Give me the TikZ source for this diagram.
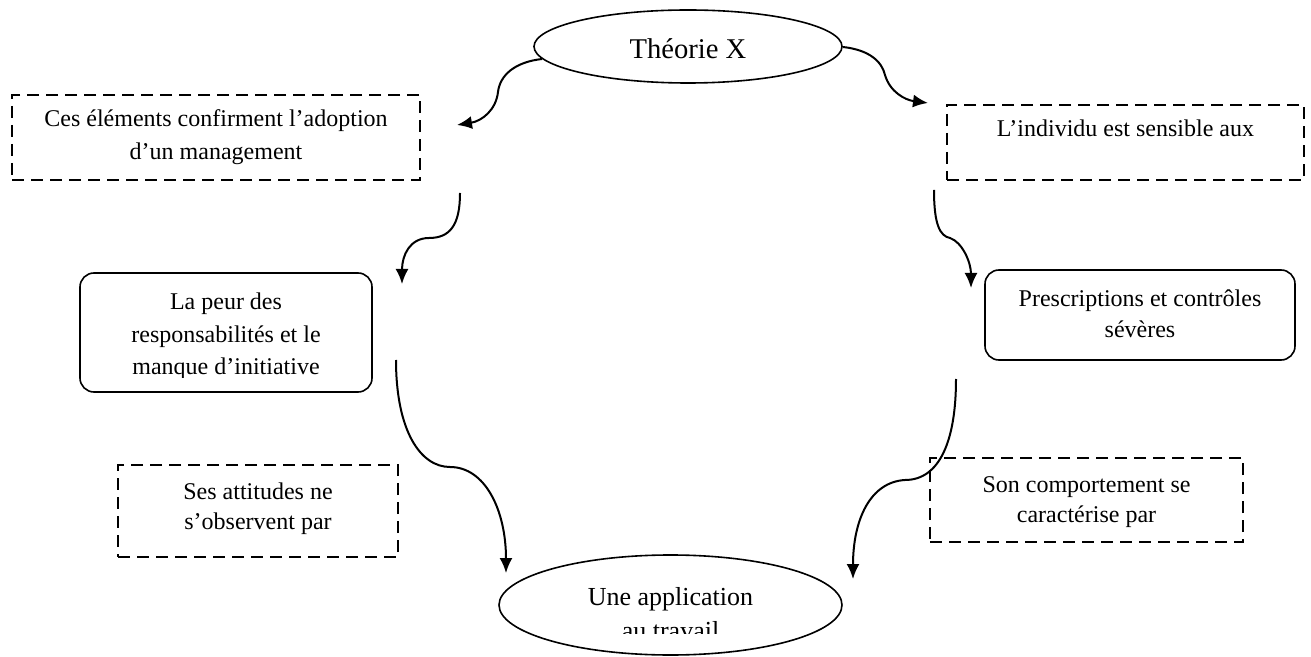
\documentclass[tikz,border=0pt]{standalone}
\usepackage{fontspec}
\setmainfont{Liberation Serif}
\usetikzlibrary{shapes.geometric,arrows.meta}
\begin{document}
\begin{tikzpicture}[x=0.5pt,y=-0.5pt,
  dbox/.style={draw,line width=1pt,dash pattern=on 6pt off 3.5pt,inner sep=0pt},
  rbox/.style={draw,line width=0.8pt,rounded corners=7pt,inner sep=0pt},
  ell/.style={draw,ellipse,line width=0.8pt,inner sep=0pt},
  txt/.style={inner sep=0pt,anchor=base,font=\fontsize{12}{16}\selectfont},
  midtxt/.style={inner sep=0pt,anchor=base,font=\fontsize{13}{16}\selectfont},
  bigtxt/.style={inner sep=0pt,anchor=base,font=\fontsize{14.3}{18}\selectfont},
  arr/.style={line width=1pt,-{Latex[length=7.5pt,width=6.5pt]}}
]
\useasboundingbox (0,0) rectangle (1311,657);

% shapes
\node[ell,minimum width=154pt,minimum height=36.5pt] (T) at (688,46.5) {};
\node[bigtxt] (Tt) at (688,59) {Théorie X};

\node[dbox,minimum width=204pt,minimum height=42.5pt] (A) at (216,137.5) {};
\node[txt] (A1) at (216,127) {Ces éléments confirment l’adoption};
\node[txt] (A2) at (216,160) {d’un management};

\node[dbox,minimum width=178.5pt,minimum height=37.5pt] (B) at (1125.5,142.5) {};
\node[txt] (B1) at (1125.5,137) {L’individu est sensible aux};

\node[rbox,minimum width=146pt,minimum height=59.5pt] (C) at (226,332.5) {};
\begin{scope}
  \clip (0,0) rectangle (1311,377.5);
  \node[txt] (C1) at (226,310) {La peur des};
  \node[txt] (C2) at (226,343) {responsabilités et le};
  \node[txt] (C3) at (226,375) {manque d’initiative};
\end{scope}

\node[rbox,minimum width=155pt,minimum height=45pt] (D) at (1140,315) {};
\node[txt] (D1) at (1140,307) {Prescriptions et contrôles};
\node[txt] (D2) at (1140,338) {sévères};

\node[dbox,minimum width=140pt,minimum height=46pt] (E) at (258,511) {};
\node[txt] (E1) at (258,499) {Ses attitudes ne};
\node[txt] (E2) at (258,529) {s’observent par};

\node[dbox,minimum width=156.5pt,minimum height=42pt] (F) at (1086.5,500) {};
\node[txt] (F1) at (1086.5,492) {Son comportement se};
\node[txt] (F2) at (1086.5,522) {caractérise par};

\node[ell,minimum width=171.5pt,minimum height=50pt] (U) at (670.5,605) {};
\begin{scope}
  \clip (0,0) rectangle (1311,633.5);
  \node[midtxt] (U1) at (670.5,605) {Une application};
  \node[midtxt] (U2) at (670.5,639) {au travail};
\end{scope}

% connector end points
\coordinate (s1) at (542,59);   \coordinate (e1) at (457,125);
\coordinate (s2) at (843,47);   \coordinate (e2) at (928,103);
\coordinate (s3) at (460,193);  \coordinate (e3) at (402,284);
\coordinate (s4) at (934,190);  \coordinate (e4) at (971,288);
\coordinate (s5) at (396,360);  \coordinate (e5) at (506,573);
\coordinate (s6) at (956,379);  \coordinate (e6) at (853,579);

\draw[arr] (s1) .. controls (515,62) and (500,75) .. (498,92)
                .. controls (496,110) and (482,121) .. (e1);
\draw[arr] (s2) .. controls (870,50) and (882,62) .. (885,75)
                .. controls (890,92) and (905,100) .. (e2);
\draw[arr] (s3) .. controls (460,225) and (450,238) .. (429,238)
                .. controls (410,238) and (402,255) .. (e3);
\draw[arr] (s4) .. controls (934,225) and (940,236) .. (950,238)
                .. controls (962,242) and (971,262) .. (e4);
\draw[arr] (s5) .. controls (396,430) and (420,467) .. (450,467)
                .. controls (485,467) and (506,510) .. (e5);
\draw[arr] (s6) .. controls (956,440) and (940,480) .. (905,480)
                .. controls (870,482) and (853,520) .. (e6);
\end{tikzpicture}
\end{document}
